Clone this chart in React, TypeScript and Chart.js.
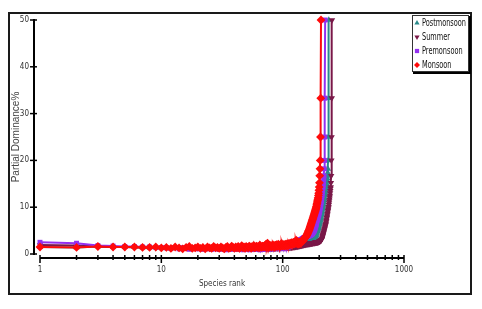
import React, { useEffect, useRef } from "react";
import { Chart, registerables } from "chart.js";
import { drawPoint } from "chart.js/helpers";

Chart.register(...registerables);

const seriesNames = ["Postmonsoon", "Summer", "Premonsoon", "Monsoon"];

const postmonsoon = [
  1.5,1.4,1.6,1.5,1.5,1.5,1.4,1.4,1.5,1.3,
  1.4,1.2,1.5,1.3,1.1,1.4,1.6,1.2,1.3,1.5,
  1.2,1.4,1.1,1.5,1.3,1.2,1.6,1.3,1.4,1.2,
  1.5,1.3,1.1,1.4,1.6,1.2,1.3,1.7,1.4,1.2,
  1.5,1.3,1.6,1.2,1.4,1.8,1.3,1.5,1.2,1.6,
  1.4,1.3,1.7,1.5,1.2,1.6,1.4,1.8,1.3,1.5,
  1.7,1.4,1.6,1.3,1.9,1.5,1.4,1.7,1.6,1.5,
  1.7,1.5,2.0,1.6,2.1,1.7,1.4,1.8,1.6,1.7,
  1.5,1.7,1.9,1.6,1.8,1.5,1.8,1.7,1.9,1.6,
  1.7,1.9,1.7,1.8,1.6,1.9,1.7,2.0,1.7,1.8,
  1.4,1.5,1.4,1.5,1.5,1.4,1.5,1.5,1.6,1.5,
  1.6,1.5,1.6,1.6,1.7,1.6,1.7,1.7,1.6,1.7,
  1.7,1.8,1.7,1.8,1.8,1.8,1.9,1.8,1.9,1.9,
  1.9,2.0,1.9,2.0,2.0,2.0,2.1,2.0,2.1,2.1,
  2.1,2.1,2.2,2.1,2.2,2.2,2.2,2.3,2.2,2.3,
  2.2,2.2,2.2,2.3,2.2,2.3,2.3,2.3,2.3,2.4,
  2.4,2.4,2.4,2.5,2.5,2.5,2.5,2.6,2.6,2.6,
  2.7,2.7,2.8,2.8,2.9,2.9,3.0,3.0,3.1,3.2,
  3.3,3.4,3.5,3.6,3.7,3.8,3.9,4.0,4.1,4.3,
  4.5,4.7,4.9,5.1,5.3,5.5,5.7,5.9,6.1,6.3,
  6.5,6.7,6.9,7.1,7.3,7.6,7.9,8.2,8.5,8.8,
  9.1,9.4,9.7,10.0,10.3,10.6,10.9,11.2,11.5,11.8,
  12.1,12.5,12.8,13.1,13.4,13.7,14.0,14.3,14.6,15.0,
  15.4,15.8,16.2,16.7,17.4,18.2,20,25,33.3,50,
];

const summer = [
  1.9,1.8,1.6,1.5,1.5,1.4,1.4,1.4,1.3,1.3,
  1.4,1.3,1.5,1.4,1.3,1.4,1.3,1.2,1.4,1.3,
  1.3,1.4,1.2,1.3,1.4,1.2,1.3,1.4,1.2,1.3,
  1.2,1.3,1.4,1.2,1.3,1.1,1.3,1.2,1.4,1.2,
  1.3,1.2,1.3,1.1,1.2,1.3,1.2,1.4,1.2,1.3,
  1.2,1.1,1.3,1.2,1.3,1.2,1.1,1.3,1.2,1.2,
  1.3,1.2,1.1,1.2,1.3,1.2,1.2,1.1,1.3,1.2,
  1.2,1.3,1.2,1.1,1.2,1.3,1.2,1.2,1.3,1.1,
  1.2,1.3,1.2,1.2,1.3,1.2,1.3,1.2,1.3,1.3,
  1.2,1.3,1.3,1.2,1.4,1.3,1.3,1.4,1.3,1.4,
  1.3,1.4,1.3,1.4,1.3,1.4,1.4,1.3,1.4,1.4,
  1.4,1.5,1.4,1.5,1.4,1.5,1.5,1.4,1.5,1.5,
  1.5,1.6,1.5,1.6,1.6,1.5,1.6,1.6,1.7,1.6,
  1.7,1.7,1.6,1.7,1.7,1.8,1.7,1.8,1.8,1.8,
  1.8,1.9,1.8,1.9,1.9,1.9,1.9,2.0,1.9,2.0,
  2.0,2.0,2.0,2.1,2.0,2.1,2.1,2.1,2.1,2.2,
  2.1,2.2,2.2,2.2,2.2,2.2,2.3,2.2,2.3,2.3,
  2.3,2.3,2.3,2.3,2.4,2.3,2.4,2.4,2.4,2.4,
  2.4,2.4,2.4,2.5,2.4,2.5,2.5,2.5,2.5,2.5,
  2.5,2.5,2.6,2.5,2.6,2.6,2.6,2.6,2.6,2.7,
  2.7,2.7,2.8,2.8,2.9,2.9,3.0,3.0,3.1,3.2,
  3.3,3.5,3.7,3.9,4.1,4.3,4.5,4.7,4.9,5.1,
  5.3,5.5,5.7,5.9,6.1,6.3,6.5,6.8,7.1,7.4,
  7.7,8.0,8.3,8.6,8.9,9.2,9.5,9.8,10.1,10.5,
  10.9,11.3,11.7,12.1,12.5,13.0,13.5,14.0,14.3,15.2,
  16.7,20,25,33.3,50,
];

const premonsoon = [
  2.5,2.3,1.8,1.7,1.6,1.6,1.5,1.5,1.4,1.4,
  1.3,1.2,1.4,1.1,1.3,1.2,1.0,1.3,1.2,1.1,
  1.3,1.0,1.2,1.1,1.4,1.0,1.2,1.1,1.3,1.0,
  1.2,1.1,1.3,0.9,1.2,1.1,1.0,1.3,1.1,1.2,
  1.0,1.2,1.1,1.3,1.0,1.2,0.9,1.1,1.3,1.0,
  1.2,1.1,0.9,1.2,1.0,1.3,1.1,1.0,1.2,1.1,
  1.0,1.3,1.1,1.2,0.9,1.1,1.3,1.0,1.2,1.1,
  1.2,1.0,1.3,1.1,1.2,1.0,1.4,1.1,1.3,1.2,
  1.1,1.3,1.2,1.4,1.1,1.3,1.2,1.5,1.2,1.4,
  1.3,1.5,1.2,1.4,1.6,1.3,1.5,1.4,1.7,1.4,
  1.3,1.5,1.2,1.4,1.6,1.3,1.5,1.4,1.6,1.5,
  1.6,1.5,1.7,1.6,1.8,1.7,1.9,1.8,2.0,1.9,
  2.1,2.0,2.2,2.2,2.4,2.3,2.5,2.5,2.7,2.7,
  2.6,2.7,2.7,2.8,2.8,2.9,2.9,2.9,3.0,3.0,
  3.0,3.1,3.1,3.2,3.2,3.3,3.3,3.4,3.4,3.5,
  3.5,3.5,3.6,3.6,3.6,3.7,3.7,3.7,3.8,3.8,
  3.8,3.8,3.9,3.9,3.9,3.9,4.0,4.0,4.0,4.1,
  4.1,4.2,4.2,4.3,4.3,4.4,4.5,4.6,4.7,4.8,
  4.9,5.0,5.2,5.3,5.5,5.7,5.9,6.1,6.3,6.6,
  6.9,7.1,7.3,7.5,7.7,7.9,8.1,8.3,8.5,8.8,
  9.0,9.3,9.6,9.9,10.2,10.5,10.9,11.3,11.7,12.1,
  12.5,13.0,13.5,14.0,14.3,14.8,15.4,16.0,16.7,18.2,20,25,33.3,50,
];

const monsoon = [
  1.5,1.4,1.6,1.5,1.5,1.5,1.4,1.4,1.5,1.3,
  1.4,1.2,1.5,1.3,1.1,1.4,1.6,1.2,1.3,1.5,
  1.2,1.4,1.1,1.5,1.3,1.2,1.6,1.3,1.4,1.2,
  1.5,1.3,1.1,1.4,1.6,1.2,1.3,1.7,1.4,1.2,
  1.5,1.3,1.6,1.2,1.4,1.8,1.3,1.5,1.2,1.6,
  1.4,1.3,1.7,1.5,1.2,1.6,1.4,1.8,1.3,1.5,
  1.7,1.4,1.6,1.3,1.9,1.5,1.4,1.7,1.6,1.5,
  1.8,1.5,2.1,1.6,2.3,1.7,1.4,1.9,1.6,1.8,
  1.5,1.7,2.0,1.6,1.8,1.5,1.9,1.7,2.0,1.6,
  1.8,2.1,1.7,1.9,1.6,2.0,1.8,2.2,1.7,1.9,
  1.8,2.0,1.7,1.9,2.1,1.8,2.0,1.9,2.2,1.8,
  2.0,2.2,1.9,2.1,2.3,2.0,2.2,2.4,2.1,2.3,
  2.2,2.5,2.3,2.1,2.6,2.4,2.3,2.8,2.4,2.9,
  2.3,2.2,2.4,2.1,2.3,2.5,2.2,2.4,2.6,2.3,
  2.6,2.5,2.7,2.6,2.8,2.8,2.9,3.0,3.1,3.2,
  3.3,3.4,3.5,3.6,3.7,3.8,3.9,4.0,4.2,4.3,
  4.5,4.6,4.8,5.0,5.1,5.3,5.5,5.7,5.9,6.1,
  6.3,6.5,6.7,6.9,7.1,7.3,7.5,7.7,7.9,8.1,
  8.3,8.5,8.7,8.9,9.1,9.3,9.5,9.7,10.0,10.2,
  10.5,10.8,11.1,11.4,11.7,12.0,12.5,13.0,13.6,14.3,
  15.2,16.7,18.2,20,25,33.3,50,
];

const xTicks = [1, 10, 100, 1000];
const yTicks = [0, 10, 20, 30, 40, 50];

const NARROW = "'DejaVu Sans Condensed', 'Liberation Sans Narrow', 'Liberation Sans', Arial, sans-serif";
const SANS = "'Liberation Sans', Arial, sans-serif";

const decorPlugin = {
  id: "decor",
  afterDraw(chart: any) {
    const { ctx, chartArea, scales } = chart;
    const x = scales.x;
    const y = scales.y;
    ctx.save();
    ctx.strokeStyle = "#1a1a1a";
    ctx.lineWidth = 2;
    ctx.strokeRect(9, 13, 462, 281);

    ctx.strokeStyle = "#000";
    const ax = chartArea.left - 6;
    ctx.lineWidth = 2;
    ctx.beginPath();
    ctx.moveTo(ax, y.getPixelForValue(50) - 1);
    ctx.lineTo(ax, y.getPixelForValue(0) + 1);
    ctx.stroke();
    ctx.lineWidth = 1.5;
    yTicks.forEach((v) => {
      const py = y.getPixelForValue(v);
      ctx.beginPath();
      ctx.moveTo(ax - 4, py);
      ctx.lineTo(ax + 3, py);
      ctx.stroke();
    });

    const ay = chartArea.bottom + 4;
    ctx.lineWidth = 2;
    ctx.beginPath();
    ctx.moveTo(x.getPixelForValue(1), ay);
    ctx.lineTo(x.getPixelForValue(1000), ay);
    ctx.stroke();
    ctx.lineWidth = 1.5;
    for (let d = 1; d < 1000; d *= 10) {
      for (let m = 2; m <= 9; m++) {
        const px = x.getPixelForValue(d * m);
        ctx.beginPath();
        ctx.moveTo(px, ay - 3);
        ctx.lineTo(px, ay + 2);
        ctx.stroke();
      }
    }
    xTicks.forEach((v) => {
      const px = x.getPixelForValue(v);
      ctx.beginPath();
      ctx.moveTo(px, ay - 3);
      ctx.lineTo(px, ay + 5);
      ctx.stroke();
    });

    const lx = 412, ly = 15, lw = 56, lh = 56;
    ctx.fillStyle = "#fff";
    ctx.fillRect(lx, ly, lw, lh);
    ctx.strokeStyle = "#333";
    ctx.lineWidth = 1;
    ctx.strokeRect(lx + 0.5, ly + 0.5, lw, lh);
    ctx.strokeStyle = "#000";
    ctx.lineWidth = 2;
    ctx.beginPath();
    ctx.moveTo(lx + lw + 2, ly + 1);
    ctx.lineTo(lx + lw + 2, ly + lh + 2);
    ctx.lineTo(lx + 1, ly + lh + 2);
    ctx.stroke();

    ctx.font = "10px " + NARROW;
    let widest = 0;
    chart.data.datasets.forEach((ds: any) => {
      widest = Math.max(widest, ctx.measureText(ds.label).width);
    });
    const sx = Math.min(1, 44 / widest);
    chart.data.datasets.forEach((ds: any, i: number) => {
      const cy = 23 + i * 14;
      ctx.fillStyle = ds.backgroundColor;
      ctx.strokeStyle = ds.borderColor;
      drawPoint(ctx, { pointStyle: ds.pointStyle, rotation: ds.pointRotation || 0, radius: 3, borderWidth: 0 }, 417, cy);
      ctx.save();
      ctx.fillStyle = "#111";
      ctx.font = "10px " + NARROW;
      ctx.textBaseline = "middle";
      ctx.textAlign = "left";
      ctx.translate(422, cy);
      ctx.scale(sx, 1);
      ctx.fillText(ds.label, 0, 0);
      ctx.restore();
    });
    ctx.restore();
  },
};

function toPoints(values: number[]) {
  return values.map((v, i) => ({ x: i + 1, y: v }));
}

export default function App() {
  const ref = useRef<HTMLCanvasElement | null>(null);

  useEffect(() => {
    if (!ref.current) return;
    const mk = (label: string, values: number[], color: string, style: string, radius: number, order: number, rot = 0) => ({
      label,
      data: toPoints(values),
      borderColor: color,
      backgroundColor: color,
      borderWidth: 2,
      pointStyle: style,
      pointRadius: radius,
      pointRotation: rot,
      pointBorderWidth: 0,
      pointBackgroundColor: color,
      clip: false,
      order,
    });
    const chart = new Chart(ref.current, {
      type: "line",
      data: {
        datasets: [
          mk(seriesNames[0], postmonsoon, "#2a8a8a", "triangle", 3.7, 3),
          mk(seriesNames[1], summer, "#7a1848", "triangle", 3.7, 2, 180),
          mk(seriesNames[2], premonsoon, "#9430f0", "rect", 3.5, 1),
          mk(seriesNames[3], monsoon, "#ff0a0a", "rectRot", 4.4, 0),
        ] as any,
      },
      options: {
        animation: false,
        responsive: false,
        events: [],
        layout: { padding: { left: 0, right: 78, top: 20, bottom: 0 } },
        plugins: { legend: { display: false }, tooltip: { enabled: false } },
        scales: {
          x: {
            type: "logarithmic",
            min: 1,
            max: 1000,
            grid: { display: false, drawTicks: false },
            border: { display: false },
            afterBuildTicks: (s: any) => {
              s.ticks = xTicks.map((v) => ({ value: v }));
            },
            afterFit: (s: any) => {
              s.height = 55;
            },
            ticks: {
              autoSkip: false,
              maxRotation: 0,
              padding: 11,
              color: "#333",
              font: { family: NARROW, size: 8 },
              callback: (v: any) => String(v),
            },
            title: {
              display: true,
              text: "Species rank",
              color: "#333",
              font: { family: NARROW, size: 8 },
              padding: { top: 0, bottom: 20 },
            },
          },
          y: {
            min: 0,
            max: 50,
            grid: { display: false, drawTicks: false },
            border: { display: false },
            afterBuildTicks: (s: any) => {
              s.ticks = yTicks.map((v) => ({ value: v }));
            },
            afterFit: (s: any) => {
              s.width = 40;
            },
            ticks: {
              padding: 11,
              color: "#333",
              font: { family: NARROW, size: 8 },
            },
            title: {
              display: true,
              text: "Partial Dominance%",
              color: "#444",
              font: { family: SANS, size: 10 },
              padding: { top: 10, bottom: 0 },
            },
          },
        },
      } as any,
      plugins: [decorPlugin],
    });
    return () => chart.destroy();
  }, []);

  return (
    <div style={{ position: "fixed", left: 0, top: 0, width: 482, height: 309, background: "#fff" }}>
      <canvas ref={ref} width={482} height={309} style={{ display: "block", width: 482, height: 309 }} />
    </div>
  );
}
